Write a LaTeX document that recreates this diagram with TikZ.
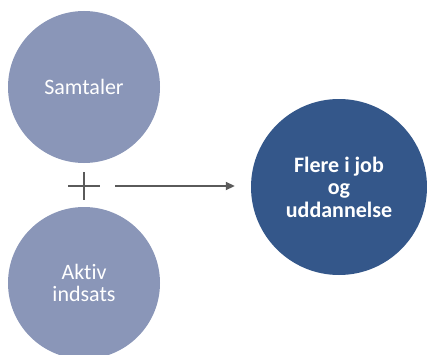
\documentclass[tikz,border=0pt]{standalone}
\usepackage{fontspec}
\setmainfont{Carlito}[Ligatures=NoCommon]
\usepackage{xcolor}
\usepackage{tikz}
\usetikzlibrary{arrows.meta,positioning,calc}
\definecolor{lavender}{RGB}{138,150,184}
\definecolor{navy}{RGB}{52,87,138}
\definecolor{slate}{RGB}{90,90,90}
\tikzstyle{arrow} = [slate,line width=1.8pt,-{Triangle[length=9pt,width=8pt]}]
\tikzstyle{plusline} = [slate,line width=2pt]
\tikzstyle{input} = [circle,fill=lavender,minimum size=152pt,inner sep=0pt,text=white,align=center,font=\fontsize{22}{22}\selectfont]
\tikzstyle{output} = [circle,fill=navy,minimum size=176pt,inner sep=0pt,text=white,align=center,font=\fontsize{22}{22.5}\selectfont\bfseries]

\begin{document}
\begin{tikzpicture}[x=1pt,y=1pt]
\useasboundingbox (0,0) rectangle (427,354);
\node [input] (talk) at (84,267) {Samtaler};
\node [input] (active) at (84,71) {Aktiv\\indsats};
\node [output] (goal) at (339,167) {Flere i job\\og\\uddannelse};

% plus sign between the two inputs
\coordinate (plus) at (84,168);
\draw [plusline] ($(plus)+(-16,0)$) -- ($(plus)+(16,0)$);
\draw [plusline] ($(plus)+(0,14)$) -- ($(plus)+(0,-14)$);

\coordinate (start) at (115,168);
\draw [arrow] (start) -- ([xshift=-16pt]goal.west |- start);
\end{tikzpicture}
\end{document}
